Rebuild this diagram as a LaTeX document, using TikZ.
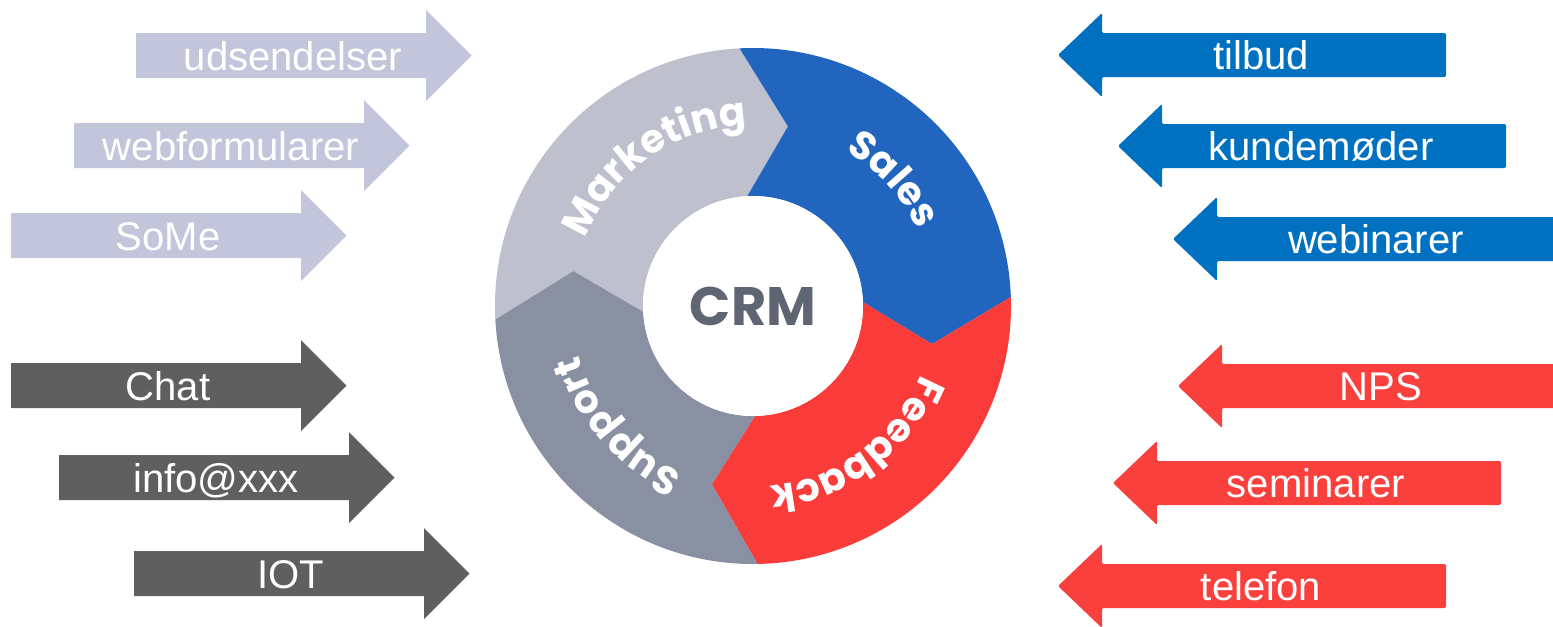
\documentclass[tikz,border=0pt]{standalone}
\usepackage{fontspec}
\setmainfont{Liberation Sans}
\newfontfamily\wheelfont{Poppins}
\usetikzlibrary{decorations.text}

\definecolor{lilac}{RGB}{195,197,218}
\definecolor{slate}{RGB}{95,95,95}
\definecolor{offerblue}{RGB}{0,112,192}
\definecolor{npsred}{RGB}{250,64,60}
\definecolor{mktgrey}{RGB}{190,192,206}
\definecolor{supgrey}{RGB}{137,144,161}
\definecolor{salesblue}{RGB}{33,101,190}
\definecolor{fbred}{RGB}{249,60,57}
\definecolor{crmtext}{RGB}{95,101,114}

\tikzset{
  arrowtext/.style={text=white,anchor=base,inner sep=0pt,font=\fontsize{11.4pt}{13pt}\selectfont},
  crmhub/.style={circle,fill=white,minimum size=2.2cm,inner sep=0pt,text=crmtext,font=\wheelfont\bfseries\fontsize{15.4pt}{17pt}\selectfont},
  wheellabel/.style={decorate,decoration={text along path,text align=center,text color=white,
    text={|\wheelfont\bfseries\fontsize{11.2pt}{13pt}\selectfont|#1}}}
}

% arrow into the wheel: left end x, centre y, colour
\newcommand{\inarrow}[3]{\fill[#3] (#1,#2) ++(0,0.225) -- ++(2.9,0) -- ++(0,0.23) -- ++(0.455,-0.455) -- ++(-0.455,-0.455) -- ++(0,0.23) -- ++(-2.9,0) -- cycle;}
% arrow out of the wheel: tip x, centre y, colour
\newcommand{\outarrow}[3]{\fill[#3,rounded corners=0.4pt] (#1,#2) -- ++(0.44,0.42) -- ++(0,-0.20) -- ++(3.44,0) -- ++(0,-0.44) -- ++(-3.44,0) -- ++(0,-0.20) -- cycle;}

\begin{document}
\begin{tikzpicture}
\useasboundingbox (0,0) rectangle (15.53,-6.26);
\clip (0,0) rectangle (15.53,-6.26);

% left side
\inarrow{1.36}{-0.555}{lilac}
\inarrow{0.74}{-1.455}{lilac}
\inarrow{0.11}{-2.355}{lilac}
\inarrow{0.11}{-3.855}{slate}
\inarrow{0.59}{-4.775}{slate}
\inarrow{1.34}{-5.735}{slate}
\node[arrowtext] (udsendelser) at (2.93,-0.70) {udsendelser};
\node[arrowtext] (webformularer) at (2.31,-1.60) {webformularer};
\node[arrowtext] (some) at (1.68,-2.50) {SoMe};
\node[arrowtext] (chat) at (1.68,-4.00) {Chat};
\node[arrowtext] (info) at (2.16,-4.92) {info@xxx};
\node[arrowtext] (iot) at (2.91,-5.88) {IOT};

% right side
\outarrow{10.58}{-0.55}{offerblue}
\outarrow{11.18}{-1.46}{offerblue}
\outarrow{11.73}{-2.39}{offerblue}
\outarrow{11.78}{-3.86}{npsred}
\outarrow{11.13}{-4.83}{npsred}
\outarrow{10.58}{-5.86}{npsred}
\node[arrowtext] (tilbud) at (12.61,-0.69) {tilbud};
\node[arrowtext] (kundemoder) at (13.21,-1.60) {kundemøder};
\node[arrowtext] (webinarer) at (13.76,-2.53) {webinarer};
\node[arrowtext] (nps) at (13.81,-4.00) {NPS};
\node[arrowtext] (seminarer) at (13.16,-4.97) {seminarer};
\node[arrowtext] (telefon) at (12.61,-6.00) {telefon};

% the wheel
\begin{scope}[shift={(7.53,-3.06)}]
\fill[mktgrey] (183:2.58) arc[start angle=183,end angle=93,radius=2.58] -- (79:1.83) -- (93:1.10) arc[start angle=93,end angle=183,radius=1.10] -- (169:1.83) -- cycle;
\fill[salesblue] (93:2.58) arc[start angle=93,end angle=2,radius=2.58] -- (-12:1.83) -- (2:1.10) arc[start angle=2,end angle=93,radius=1.10] -- (79:1.83) -- cycle;
\fill[fbred] (2:2.58) arc[start angle=2,end angle=-89,radius=2.58] -- (-103:1.83) -- (-89:1.10) arc[start angle=-89,end angle=2,radius=1.10] -- (-12:1.83) -- cycle;
\fill[supgrey] (271:2.58) arc[start angle=271,end angle=183,radius=2.58] -- (169:1.83) -- (183:1.10) arc[start angle=183,end angle=271,radius=1.10] -- (257:1.83) -- cycle;
\node[crmhub] (crm) at (0,0) {CRM};
\path[wheellabel=Marketing] (165:1.81) arc[start angle=165,end angle=85,radius=1.81];
\path[wheellabel=Sales] (82:1.81) arc[start angle=82,end angle=2,radius=1.81];
\path[wheellabel=Feedback] (-13.5:1.81) arc[start angle=-13.5,end angle=-93.5,radius=1.81];
\path[wheellabel=Support] (261.5:1.81) arc[start angle=261.5,end angle=181.5,radius=1.81];
\end{scope}
\end{tikzpicture}
\end{document}
